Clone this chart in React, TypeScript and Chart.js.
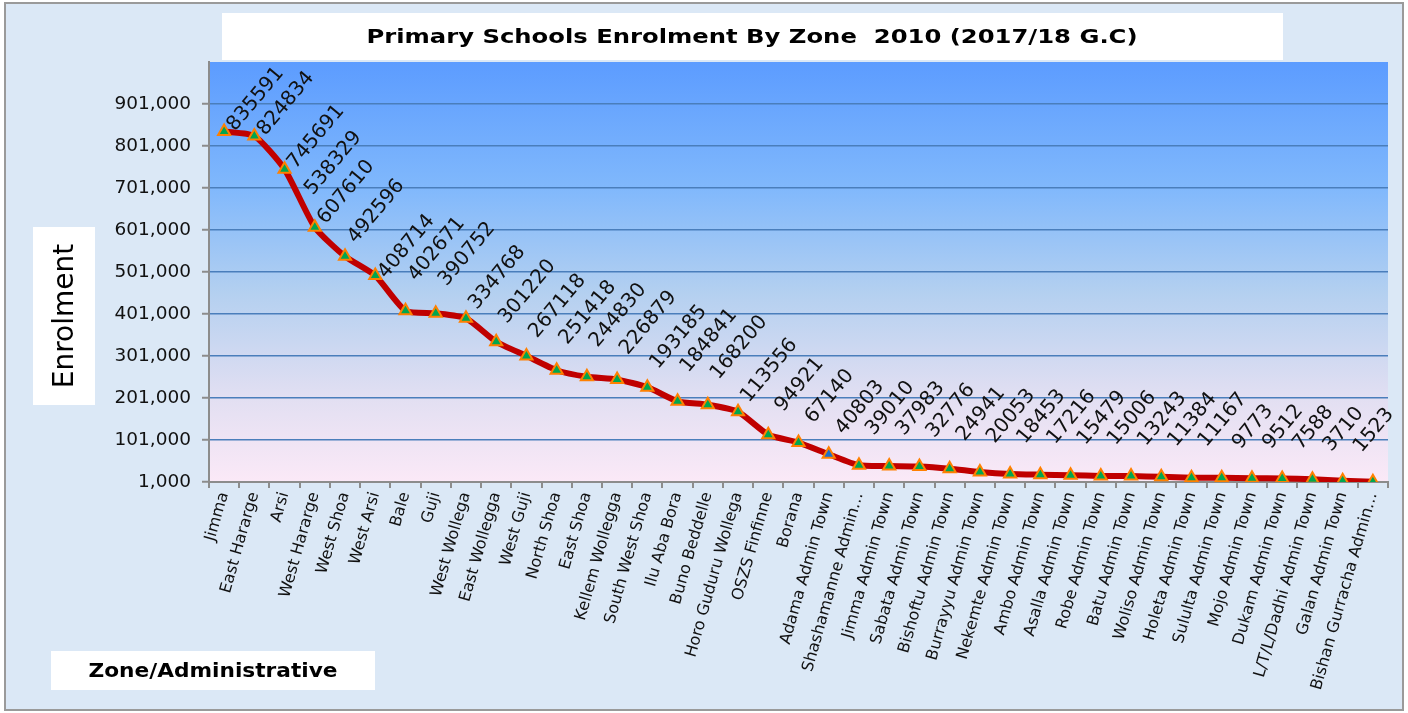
import React, { useEffect, useRef } from "react";
import { Chart, registerables } from "chart.js";

Chart.register(...registerables);

const categories = [
  "Jimma", "East Hararge", "Arsi", "West Hararge", "West Shoa", "West Arsi", "Bale", "Guji",
  "West Wollega", "East Wollegga", "West Guji", "North Shoa", "East Shoa", "Kellem Wollegga",
  "South West Shoa", "Ilu Aba Bora", "Buno Beddelle", "Horo Guduru Wollega", "OSZS Finfinne",
  "Borana", "Adama Admin Town", "Shashamanne Admin…", "Jimma Admin Town", "Sabata Admin Town",
  "Bishoftu Admin Town", "Burrayyu Admin Town", "Nekemte Admin Town", "Ambo Admin Town",
  "Asalla Admin Town", "Robe Admin Town", "Batu Admin Town", "Woliso Admin Town",
  "Holeta Admin Town", "Sululta Admin Town", "Mojo Admin Town", "Dukam Admin Town",
  "L/T/L/Dadhi Admin Town", "Galan Admin Town", "Bishan Gurracha Admin…",
];

const enrolment = [
  835591, 824834, 745691, 607610, 538329, 492596, 408714, 402671, 390752, 334768, 301220,
  267118, 251418, 244830, 226879, 193185, 184841, 168200, 113556, 94921, 67140, 40803, 39010,
  37983, 32776, 24941, 20053, 18453, 17216, 15479, 15006, 13243, 11384, 11167, 9773, 9512, 7588,
  3710, 1523,
];

const dataLabels = [
  "835591", "824834", "745691", "538329", "607610", "492596", "408714", "402671", "390752",
  "334768", "301220", "267118", "251418", "244830", "226879", "193185", "184841", "168200",
  "113556", "94921", "67140", "40803", "39010", "37983", "32776", "24941", "20053", "18453",
  "17216", "15479", "15006", "13243", "11384", "11167", "9773", "9512", "7588", "3710", "1523",
];

const yTickValues = [1000, 101000, 201000, 301000, 401000, 501000, 601000, 701000, 801000, 901000];
const yMin = 1000;
const yMax = 1001000;

const titleText = "Primary Schools Enrolment By Zone  2010 (2017/18 G.C)";
const yTitleText = "Enrolment";
const xTitleText = "Zone/Administrative";
const highlightIndex = 20;

const FONT = '"DejaVu Sans", Verdana, sans-serif';

function drawFittedText(ctx: any, text: string, cx: number, cy: number, font: string, targetW: number) {
  ctx.save();
  ctx.font = font;
  ctx.textAlign = "center";
  ctx.textBaseline = "middle";
  const w = ctx.measureText(text).width;
  const s = w > 0 ? targetW / w : 1;
  ctx.translate(cx, cy);
  ctx.scale(s, 1);
  ctx.fillText(text, 0, 0);
  ctx.restore();
}

const backgroundPlugin = {
  id: "bgPlugin",
  beforeDraw(chart: any) {
    const { ctx, chartArea, width, height } = chart;
    ctx.save();
    ctx.fillStyle = "#ffffff";
    ctx.fillRect(0, 0, width, height);
    ctx.fillStyle = "#dbe8f6";
    ctx.fillRect(5, 3, 1398, 707);
    ctx.strokeStyle = "#9a9a9a";
    ctx.lineWidth = 2;
    ctx.strokeRect(5, 3, 1398, 707);

    const g = ctx.createLinearGradient(0, chartArea.top, 0, chartArea.bottom);
    g.addColorStop(0, "#5c9cff");
    g.addColorStop(0.3, "#80b8fc");
    g.addColorStop(0.55, "#b4d0f0");
    g.addColorStop(0.8, "#e2dff2");
    g.addColorStop(1, "#fbe9f7");
    ctx.fillStyle = g;
    ctx.fillRect(chartArea.left, chartArea.top, chartArea.right - chartArea.left, chartArea.bottom - chartArea.top);

    // title box
    ctx.fillStyle = "#ffffff";
    ctx.fillRect(222, 13, 1061, 47);
    ctx.fillStyle = "#000000";
    drawFittedText(ctx, titleText, 752, 38, "bold 20px " + FONT, 771);

    // y title box
    ctx.fillStyle = "#ffffff";
    ctx.fillRect(33, 227, 62, 178);
    ctx.save();
    ctx.translate(66, 316);
    ctx.rotate(-Math.PI / 2);
    ctx.fillStyle = "#000000";
    ctx.font = "28px " + FONT;
    ctx.textAlign = "center";
    ctx.textBaseline = "middle";
    ctx.fillText(yTitleText, 0, 0);
    ctx.restore();

    // x title box
    ctx.fillStyle = "#ffffff";
    ctx.fillRect(51, 651, 324, 39);
    ctx.fillStyle = "#000000";
    drawFittedText(ctx, xTitleText, 213, 672, "bold 20px " + FONT, 249);
    ctx.restore();
  },
};

const labelPlugin = {
  id: "labelPlugin",
  afterDatasetsDraw(chart: any) {
    const { ctx, chartArea } = chart;
    const meta = chart.getDatasetMeta(0);
    const theta = (50 * Math.PI) / 180;
    const dirX = Math.cos(theta);
    const dirY = -Math.sin(theta);
    const nX = Math.sin(theta);
    const nY = Math.cos(theta);
    const fs = 20;
    ctx.save();
    ctx.font = fs + "px " + FONT;
    ctx.fillStyle = "#111111";
    let prev: { x: number; y: number } | null = null;
    meta.data.forEach((pt: any, i: number) => {
      const text = dataLabels[i];
      const L = ctx.measureText(text).width;
      const H = fs * 0.73;
      const h = L * Math.sin(theta) + H * Math.cos(theta);
      let cx = pt.x + 1;
      const cy = pt.y - 26 - 0.5 * L;
      ctx.save();
      if (cy - h / 2 < chartArea.top + 30) {
        const ax = pt.x + 7;
        const ay = pt.y - 3;
        ctx.translate(ax, ay);
        ctx.rotate(-theta);
        ctx.textAlign = "left";
        prev = { x: ax + (L / 2) * dirX, y: ay + (L / 2) * dirY };
      } else {
        if (prev) {
          const perp = (cx - prev.x) * nX + (cy - prev.y) * nY;
          if (perp < 18) {
            cx += (30 - perp) / nX;
          }
        }
        ctx.translate(cx, cy);
        ctx.rotate(-theta);
        ctx.textAlign = "center";
        prev = { x: cx, y: cy };
      }
      ctx.textBaseline = "middle";
      ctx.fillText(text, 0, 0);
      ctx.restore();
    });
    ctx.restore();
  },
};

export default function App() {
  const canvasRef = useRef<HTMLCanvasElement | null>(null);

  useEffect(() => {
    if (!canvasRef.current) return;
    const pointFill = enrolment.map((_, i) => (i === highlightIndex ? "#1f6fc8" : "#00a650"));
    const chart = new Chart(canvasRef.current, {
      type: "line",
      data: {
        labels: categories,
        datasets: [
          {
            data: enrolment,
            borderColor: "#c00000",
            borderWidth: 6,
            tension: 0.2,
            pointStyle: "triangle",
            pointRadius: 7,
            pointBorderWidth: 2,
            pointBackgroundColor: pointFill,
            pointBorderColor: "#ff8000",
            fill: false,
          },
        ],
      },
      options: {
        responsive: false,
        animation: false,
        layout: { padding: { top: 62, right: 20, left: 0, bottom: 0 } },
        plugins: {
          legend: { display: false },
          title: { display: false },
          tooltip: { enabled: false },
        },
        scales: {
          x: {
            type: "category",
            offset: true,
            afterFit(scale: any) {
              scale.height = 231;
            },
            border: { display: true, color: "#8c8c8c", width: 2 },
            grid: {
              display: true,
              drawOnChartArea: false,
              drawTicks: true,
              tickLength: 6,
              offset: true,
              color: "#8c8c8c",
              lineWidth: 2,
            },
            ticks: {
              autoSkip: false,
              minRotation: 74,
              maxRotation: 74,
              padding: 2,
              color: "#111111",
              font: { family: FONT, size: 16 },
            },
          },
          y: {
            type: "linear",
            min: yMin,
            max: yMax,
            afterFit(scale: any) {
              scale.width = 209;
            },
            afterBuildTicks(scale: any) {
              scale.ticks = yTickValues.map((v) => ({ value: v }));
            },
            border: { display: true, color: "#8c8c8c", width: 2 },
            grid: {
              color: "#4a7ebb",
              lineWidth: 1.5,
              tickLength: 7,
              tickColor: "#8c8c8c",
              tickWidth: 2,
            },
            ticks: {
              padding: 11,
              color: "#111111",
              font: { family: FONT, size: 18.5 },
              callback: (v: any) => Number(v).toLocaleString("en-US"),
            },
          },
        },
      },
      plugins: [backgroundPlugin, labelPlugin],
    });
    return () => chart.destroy();
  }, []);

  return (
    <div style={{ position: "absolute", left: 0, top: 0, width: 1408, height: 713 }}>
      <canvas ref={canvasRef} width={1408} height={713} style={{ display: "block" }} />
    </div>
  );
}
